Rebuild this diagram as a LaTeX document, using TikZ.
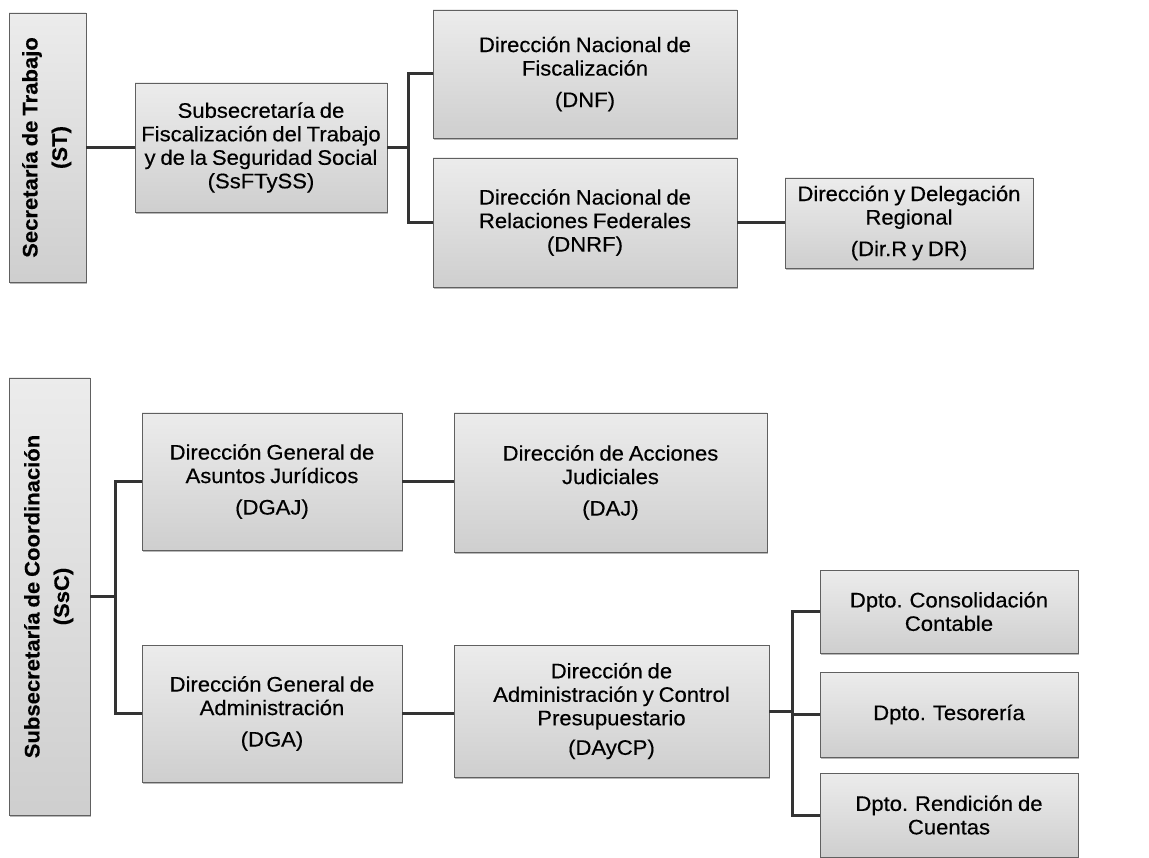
\documentclass[tikz,border=0pt]{standalone}
\usepackage{fontspec}
\setmainfont[FakeStretch=1.05, FakeBold=0.4, WordSpace=0.8]{Liberation Sans}
\usetikzlibrary{shadows}

\tikzset{
  unit/.style={draw=gray!75!black, line width=0.8pt, top color=gray!15, bottom color=gray!38,
    align=center, inner sep=2pt, font=\fontsize{21}{23.5}\selectfont,
    drop shadow={shadow xshift=1.2pt, shadow yshift=-1.8pt, fill=gray!70, opacity=0.8}},
  head/.style={unit, font=\bfseries\fontsize{21}{23.5}\selectfont},
  link/.style={draw=black!80, line width=3pt},
}

\begin{document}
\begin{tikzpicture}[x=1pt, y=-1pt]
  \useasboundingbox (0,0) rectangle (1149,858);

  % upper chart
  \node[head, minimum width=77, minimum height=269] (st) at (47.5,147.5)
    {\rotatebox{90}{\begin{tabular}{@{}c@{}}Secretaría de Trabajo\\[6pt](ST)\end{tabular}}};
  \node[unit, minimum width=252, minimum height=129] (ssf) at (261,147.5)
    {Subsecretaría de\\Fiscalización del Trabajo\\y de la Seguridad Social\\(SsFTySS)};
  \node[unit, minimum width=304, minimum height=128] (dnf) at (585,74)
    {Dirección Nacional de\\Fiscalización\\[8pt](DNF)};
  \node[unit, minimum width=304, minimum height=129] (dnrf) at (585,222.5)
    {Dirección Nacional de\\Relaciones Federales\\(DNRF)};
  \node[unit, minimum width=248, minimum height=90] (dirr) at (909,223)
    {Dirección y Delegación\\Regional\\[8pt](Dir.R y DR)};

  \coordinate (b1) at (408,147.5);
  \draw[link] (st) -- (ssf);
  \draw[link] (ssf.east) -- (b1);
  \draw[link] (dnf.west) -| (b1);
  \draw[link] (dnrf.west) -| (b1);
  \draw[link] (dnrf.east) -- (dnrf.east -| dirr.west);

  % lower chart
  \node[head, minimum width=81, minimum height=437] (ssc) at (49.5,596.5)
    {\rotatebox{90}{\begin{tabular}{@{}c@{}}Subsecretaría de Coordinación\\[6pt](SsC)\end{tabular}}};
  \node[unit, minimum width=260, minimum height=137] (dgaj) at (272,481.5)
    {Dirección General de\\Asuntos Jurídicos\\[8pt](DGAJ)};
  \node[unit, minimum width=260, minimum height=137] (dga) at (272,713.5)
    {Dirección General de\\Administración\\[8pt](DGA)};
  \node[unit, minimum width=313, minimum height=139] (daj) at (610.5,482.5)
    {Dirección de Acciones\\Judiciales\\[8pt](DAJ)};
  \node[unit, minimum width=315, minimum height=132] (daycp) at (611.5,711)
    {Dirección de\\Administración y Control\\Presupuestario\\[6pt](DAyCP)};

  \coordinate (b2) at (115,596.5);
  \draw[link] (ssc.east) -- (b2);
  \draw[link] (dgaj.west) -| (b2);
  \draw[link] (dga.west) -| (b2);
  \draw[link] (dgaj.east) -- (dgaj.east -| daj.west);
  \draw[link] (dga.east) -- (dga.east -| daycp.west);

  \coordinate (b3) at (792,711);
  \draw[link] (daycp.east) -- (b3);
  \foreach \n/\y/\h/\txt in {cc/611.5/83/{Dpto. Consolidación\\Contable},
      tes/714.5/85/{Dpto. Tesorería},
      ren/815/84/{Dpto. Rendición de\\Cuentas}} {
    \node[unit, minimum width=258, minimum height=\h] (\n) at (949,\y) {\txt};
    \draw[link] (\n.west) -| (b3);
  }
\end{tikzpicture}
\end{document}
